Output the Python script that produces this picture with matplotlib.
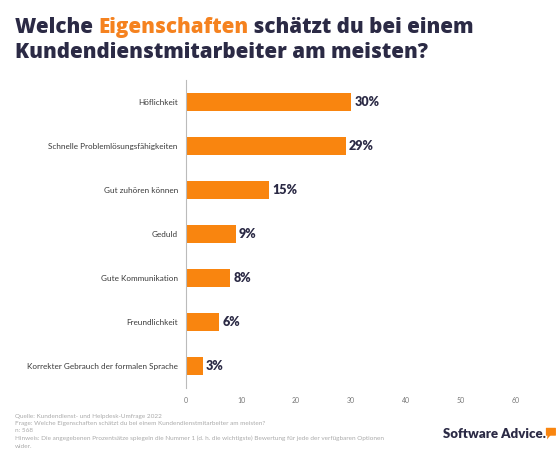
import matplotlib.pyplot as plt
from matplotlib.patches import FancyBboxPatch, Polygon

categories = ['Höflichkeit', 'Schnelle Problemlösungsfähigkeiten', 'Gut zuhören können',
              'Geduld', 'Gute Kommunikation', 'Freundlichkeit',
              'Korrekter Gebrauch der formalen Sprache']
values = [30, 29, 15, 9, 8, 6, 3]
xticks = [0, 10, 20, 30, 40, 50, 60]

navy = '#2b2a45'
orange = '#f9850f'
plt.rcParams['font.family'] = ['Lato', 'DejaVu Sans']

fig = plt.figure(figsize=(5.59, 4.66), dpi=100)
ax = fig.add_axes([0.333, 0.168, 0.61, 0.66])

ypos = list(range(len(categories)))
ax.barh(ypos, values, height=0.42, color=orange, edgecolor='none')
for y, v in zip(ypos, values):
    ax.text(v + 0.6, y, f'{v}%', va='center', ha='left', fontsize=9,
            fontweight='heavy', color=navy)

ax.set_yticks(ypos)
ax.set_yticklabels(categories, fontsize=5.9, color='#3a3a3a')
ax.set_xticks(xticks)
ax.set_xticklabels(xticks, fontsize=5, color='#777777')
ax.tick_params(length=0, pad=7)
ax.tick_params(axis='y', pad=6)
ax.set_xlim(0, 62)
ax.set_ylim(len(categories) - 0.5, -0.5)
for s in ['top', 'right', 'bottom']:
    ax.spines[s].set_visible(False)
ax.spines['left'].set_color('#bbbbbb')
ax.spines['left'].set_linewidth(0.8)

# title with a coloured word
fig.canvas.draw()
r = fig.canvas.get_renderer()
tfont = dict(fontsize=14.8, fontweight='heavy', family=['Open Sans', 'DejaVu Sans'], va='baseline')
x0 = 15 / 559
y1 = 1 - 33 / 466
t1 = fig.text(x0, y1, 'Welche ', color=navy, **tfont)
w1 = t1.get_window_extent(r).width / fig.bbox.width
t2 = fig.text(x0 + w1, y1, 'Eigenschaften', color='#f5821f', **tfont)
w2 = t2.get_window_extent(r).width / fig.bbox.width
fig.text(x0 + w1 + w2, y1, ' schätzt du bei einem', color=navy, **tfont)
fig.text(x0, 1 - 58 / 466, 'Kundendienstmitarbeiter am meisten?', color=navy, **tfont)

footer = ('Quelle: Kundendienst- und Helpdesk-Umfrage 2022\n'
          'Frage: Welche Eigenschaften schätzt du bei einem Kundendienstmitarbeiter am meisten?\n'
          'n: 568\n'
          'Hinweis: Die angegebenen Prozentsätze spiegeln die Nummer 1 (d. h. die wichtigste) Bewertung für jede der verfügbaren Optionen\n'
          'wider.')
fig.text(15 / 559, 1 - 414 / 466, footer, fontsize=4.6, color='#aaaaaa', va='top', linespacing=1.55)

# logo
lt = fig.text(443 / 559, 1 - 434 / 466, 'Software Advice.', fontsize=9.5, fontweight='heavy',
              color=navy, va='center')
bx = lt.get_window_extent(r).x1 / fig.bbox.width
fig.patches.append(FancyBboxPatch((bx + 0.001, 0.066), 0.016, 0.015, boxstyle='round,pad=0.001',
                                  transform=fig.transFigure, facecolor=orange, edgecolor='none'))
fig.patches.append(Polygon([(bx + 0.003, 0.067), (bx + 0.009, 0.067), (bx + 0.002, 0.057)],
                           transform=fig.transFigure, facecolor=orange, edgecolor='none'))

fig.savefig('out.png', dpi=100)
